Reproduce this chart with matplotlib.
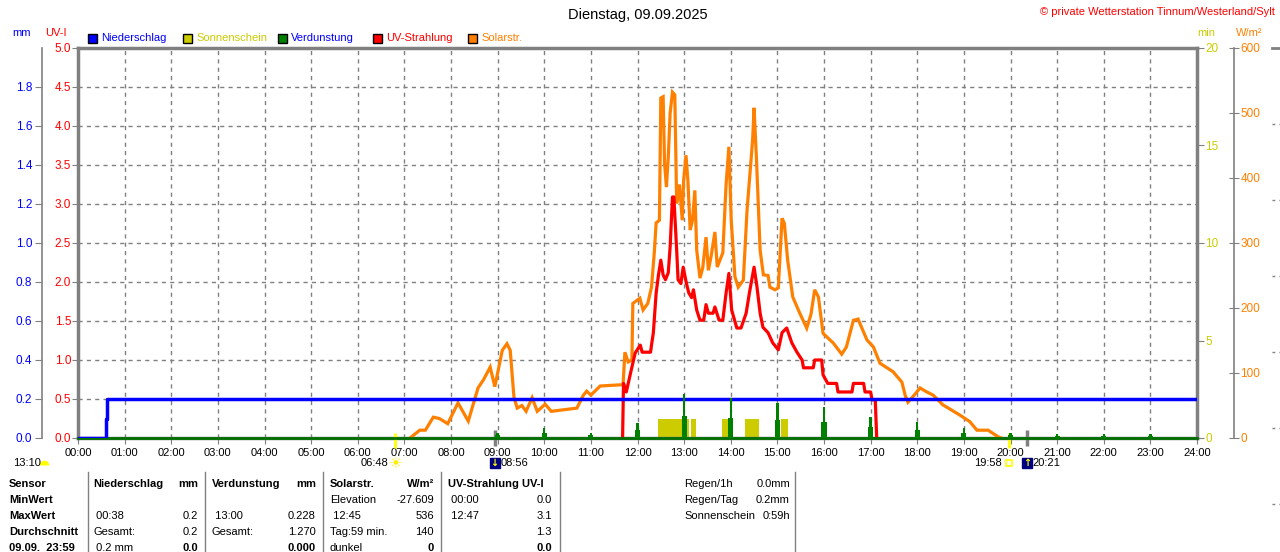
import numpy as np
import matplotlib
matplotlib.use('Agg')
import matplotlib.pyplot as plt
from matplotlib.lines import Line2D
from matplotlib.patches import Rectangle

plt.rcParams['font.family'] = ['Liberation Sans', 'DejaVu Sans']
plt.rcParams['font.size'] = 8

# %% data (time in hours)

solar_h = [7.12, 7.33, 7.45, 7.62, 7.75, 7.93, 8.15, 8.37, 8.58, 8.70, 8.84, 8.94,
           9.10, 9.20, 9.27, 9.35, 9.42, 9.52, 9.61, 9.74, 9.85, 10.02, 10.15, 10.70,
           10.84, 10.91, 11.00, 11.20, 11.69, 11.73, 11.80, 11.88, 11.90, 12.05, 12.12,
           12.22, 12.30, 12.36, 12.40, 12.47, 12.50, 12.55, 12.58, 12.62, 12.66, 12.70,
           12.75, 12.80, 12.84, 12.90, 12.96, 12.99, 13.04, 13.08, 13.13, 13.18, 13.23,
           13.27, 13.34, 13.40, 13.47, 13.52, 13.58, 13.66, 13.71, 13.83, 13.90, 13.96,
           14.01, 14.09, 14.16, 14.27, 14.35, 14.44, 14.47, 14.50, 14.55, 14.63, 14.70,
           14.80, 14.84, 14.95, 15.02, 15.10, 15.15, 15.22, 15.33, 15.48, 15.63, 15.72,
           15.80, 15.88, 15.98, 16.20, 16.38, 16.48, 16.63, 16.73, 16.92, 17.06, 17.20,
           17.48, 17.67, 17.74, 17.80, 17.90, 18.06, 18.20, 18.34, 18.55, 18.92, 19.13,
           19.28, 19.52, 19.73, 19.80]
solar_w = [0, 12, 12, 32, 30, 22, 54, 26, 77, 90, 109, 79,
           135, 145, 135, 63, 46, 50, 41, 62, 41, 52, 41, 46,
           66, 72, 66, 80, 82, 132, 117, 120, 207, 215, 197,
           207, 232, 285, 331, 335, 523, 525, 423, 386, 432, 500,
           532, 528, 361, 390, 335, 397, 435, 397, 320, 335, 381,
           289, 246, 262, 309, 258, 280, 317, 263, 285, 390, 448,
           335, 248, 232, 243, 351, 432, 460, 508, 432, 289, 251,
           250, 232, 228, 231, 338, 330, 274, 217, 192, 169, 190,
           228, 217, 161, 146, 129, 140, 181, 183, 151, 140, 115,
           102, 86, 66, 55, 63, 77, 71, 66, 51, 35, 25,
           12, 12, 2, 0]

uv_h = [11.68, 11.70, 11.76, 11.85, 11.95, 12.06, 12.10, 12.28, 12.30, 12.34, 12.40,
        12.45, 12.50, 12.55, 12.60, 12.66, 12.70, 12.75, 12.78, 12.84, 12.87, 12.93,
        12.98, 13.05, 13.10, 13.16, 13.20, 13.27, 13.34, 13.42, 13.47, 13.52, 13.62,
        13.66, 13.75, 13.83, 13.90, 13.96, 14.02, 14.13, 14.22, 14.33, 14.40, 14.50,
        14.56, 14.63, 14.69, 14.80, 14.90, 15.02, 15.10, 15.20, 15.31, 15.42, 15.53,
        15.56, 15.77, 15.80, 15.95, 15.98, 16.08, 16.27, 16.30, 16.60, 16.63, 16.85,
        16.88, 17.00, 17.03, 17.10, 17.13]
uv_i = [0.0, 0.70, 0.59, 0.83, 1.09, 1.19, 1.10, 1.10, 1.19, 1.35, 1.86,
        2.09, 2.28, 2.09, 2.03, 2.12, 2.45, 3.09, 3.09, 2.41, 2.03, 1.98,
        2.19, 1.98, 1.86, 1.80, 1.90, 1.64, 1.51, 1.51, 1.71, 1.60, 1.60,
        1.68, 1.51, 1.51, 1.86, 2.11, 1.64, 1.41, 1.41, 1.60, 1.86, 2.19,
        1.95, 1.60, 1.42, 1.35, 1.22, 1.13, 1.35, 1.41, 1.22, 1.10, 1.00,
        0.90, 0.90, 1.00, 1.00, 0.81, 0.70, 0.70, 0.59, 0.59, 0.70, 0.70,
        0.59, 0.59, 0.49, 0.49, 0.0]

rain_h = [0.0, 0.60, 0.63, 24.0]
rain_mm = [0.0, 0.1, 0.2, 0.2]

evap_h = [9, 10, 11, 12, 13, 14, 15, 16, 17, 18, 19, 20, 21, 22, 23]
evap_mm = [0.027, 0.053, 0.027, 0.077, 0.228, 0.205, 0.18, 0.16, 0.108, 0.082,
           0.05, 0.026, 0.018, 0.018, 0.018]

sun_start = [12.43, 13.15, 13.81, 14.31, 15.07]
sun_end = [13.11, 13.25, 14.00, 14.61, 15.23]
sun_min = [1, 1, 1, 1, 1]

hours = list(range(0, 25))
hour_labels = ['%02d:00' % h for h in hours]


def hm(s):
    h, m = s.split(':')
    return int(h) + int(m) / 60.0


sunrise, sunset = '06:48', '19:58'
moonset, moonrise = '08:56', '20:21'
day_length = '13:10'

legend_labels = ['Niederschlag', 'Sonnenschein', 'Verdunstung', 'UV-Strahlung', 'Solarstr.']
legend_colors = ['#0000FF', '#CCCC00', '#008000', '#FF0000', '#FF8000']
legend_text_colors = ['#0000FF', '#CCCC00', '#0000FF', '#FF0000', '#FF8000']

# table
row_label = ['Sensor', 'MinWert', 'MaxWert', 'Durchschnitt', '09.09.  23:59']
tab_nied_l = ['Niederschlag', '', ' 00:38', 'Gesamt:', ' 0.2 mm']
tab_nied_r = ['mm', '', '0.2', '0.2', '0.0']
tab_verd_l = ['Verdunstung', '', ' 13:00', 'Gesamt:', '']
tab_verd_r = ['mm', '', '0.228', '1.270', '0.000']
tab_sol_l = ['Solarstr.', 'Elevation', ' 12:45', 'Tag:59 min.', 'dunkel']
tab_sol_r = ['W/m²', '-27.609', '536', '140', '0']
tab_uv_l = ['UV-Strahlung UV-I', ' 00:00', ' 12:47', '', '']
tab_uv_r = ['', '0.0', '3.1', '1.3', '0.0']
info_l = ['Regen/1h', 'Regen/Tag', 'Sonnenschein']
info_r = ['0.0mm', '0.2mm', '0:59h']

# %% figure helpers
W, H = 1280, 552
GRAY = '#808080'


def fx(x):
    return x / W


def fy(y):
    return 1 - y / H


fig = plt.figure(figsize=(W / 100, H / 100), dpi=100)
ax_sun = fig.add_axes([fx(78), fy(438), (1197 - 78) / W, (438 - 48) / H])
ax_sol = ax_sun.twinx()
ax_uv = ax_sun.twinx()
ax_mm = ax_sun.twinx()

# sunshine (min)
ax_sun.bar(sun_start, sun_min, width=np.array(sun_end) - np.array(sun_start),
           align='edge', color='#CCCC00', zorder=2)
ax_sun.set_xlim(0, 24)
ax_sun.set_ylim(0, 20)
ax_sun.set_xticks(hours)
ax_sun.set_xticklabels(hour_labels)
ax_sun.yaxis.tick_right()
ax_sun.set_yticks([0, 5, 10, 15, 20])
ax_sun.set_yticks(np.arange(0, 21, 2), minor=True)
ax_sun.yaxis.remove_overlapping_locs = False
ax_sun.grid(axis='x', which='major', color=GRAY, ls=(0, (3, 3)), lw=1)
ax_sun.grid(axis='y', which='minor', color=GRAY, ls=(0, (3, 3)), lw=1)
ax_sun.tick_params(axis='y', which='minor', length=0)
ax_sun.tick_params(axis='y', which='major', colors=GRAY, labelcolor='#CCCC00',
                   length=5, pad=1, labelsize=8.5)
ax_sun.tick_params(axis='x', colors=GRAY, labelcolor='black', length=4, pad=3)
for s in ax_sun.spines.values():
    s.set_color(GRAY)
    s.set_linewidth(2.5)

# solar radiation (W/m2)
ax_sol.plot(solar_h, solar_w, color='#FF8000', lw=2.3, solid_joinstyle='miter')
ax_sol.set_ylim(0, 600)
ax_sol.set_yticks(range(0, 601, 100))
ax_sol.spines['right'].set_position(('axes', 1 + 37 / 1119))
ax_sol.spines['right'].set_color(GRAY)
ax_sol.spines['right'].set_linewidth(1.2)
for s in ['top', 'left', 'bottom']:
    ax_sol.spines[s].set_visible(False)
ax_sol.tick_params(axis='y', direction='inout', length=7, colors=GRAY,
                   labelcolor='#FF8000', pad=1, labelsize=8.5)

# UV index
ax_uv.plot(uv_h, uv_i, color='#FF0000', lw=2.3)
ax_uv.set_ylim(0, 5)
ax_uv.yaxis.tick_left()
ax_uv.set_yticks(np.arange(0, 5.01, 0.5))
ax_uv.set_yticklabels(['%.1f' % v for v in np.arange(0, 5.01, 0.5)])
ax_uv.tick_params(axis='y', length=4, colors=GRAY, labelcolor='#FF0000', pad=1,
                  labelsize=8.5)
for s in ax_uv.spines.values():
    s.set_visible(False)

# precipitation and evaporation (mm)
ax_mm.axhline(0, color='#007000', lw=2, clip_on=False, zorder=1)
ax_mm.plot(rain_h, rain_mm, drawstyle='steps-post', color='#0000FF', lw=2.5, zorder=2)
ax_mm.bar(evap_h, np.array(evap_mm) * 0.5, width=0.11, color='#008000', zorder=3)
ax_mm.bar(evap_h, evap_mm, width=0.05, color='#008000', zorder=3)
ax_mm.set_ylim(0, 2)
ax_mm.yaxis.tick_left()
ax_mm.set_yticks(np.arange(0, 1.81, 0.2))
ax_mm.set_yticklabels(['%.1f' % v for v in np.arange(0, 1.81, 0.2)])
ax_mm.spines['left'].set_position(('axes', -36 / 1119))
ax_mm.spines['left'].set_color(GRAY)
ax_mm.spines['left'].set_linewidth(1.2)
for s in ['top', 'right', 'bottom']:
    ax_mm.spines[s].set_visible(False)
ax_mm.tick_params(axis='y', length=5, colors=GRAY, labelcolor='#0000FF', pad=2,
                  labelsize=8.5)

# sun / moon events below the time axis
xt = ax_sun.get_xaxis_transform()
ev_y = -25 / 390
ax_sun.vlines([hm(sunrise), hm(sunset)], -0.026, 0.013, transform=xt,
              colors='#FFFF00', lw=2, clip_on=False, zorder=5)
ax_sun.vlines([hm(moonset), hm(moonrise)], -0.02, 0.02, transform=xt,
              colors=GRAY, lw=2.5, clip_on=False, zorder=5)

ax_sun.annotate('☀', xy=(hm(sunrise), ev_y), xycoords=xt, ha='center', va='center',
                color='#FFEE00', fontsize=11, family='DejaVu Sans', annotation_clip=False)
ax_sun.annotate(sunrise, xy=(hm(sunrise), ev_y), xycoords=xt, xytext=(-7, 0),
                textcoords='offset pixels', ha='right', va='center', annotation_clip=False)
ax_sun.plot([hm(sunset)], [ev_y], marker='s', ms=5, mfc='none', mec='#FFFF00', mew=1.2,
            transform=xt, clip_on=False)
ax_sun.annotate(sunset, xy=(hm(sunset), ev_y), xycoords=xt, xytext=(-7, 0),
                textcoords='offset pixels', ha='right', va='center', annotation_clip=False)
for t, arrow in [(moonset, '↓'), (moonrise, '↑')]:
    ax_sun.plot([hm(t)], [ev_y], marker='s', ms=7, color='#000080', transform=xt,
                clip_on=False)
    ax_sun.annotate(arrow, xy=(hm(t), ev_y), xycoords=xt, ha='center', va='center',
                    color='#FFFF00', fontsize=7, fontweight='bold', family='DejaVu Sans',
                    annotation_clip=False)
    ax_sun.annotate(t, xy=(hm(t), ev_y), xycoords=xt, xytext=(6, 0),
                    textcoords='offset pixels', ha='left', va='center', annotation_clip=False)

fig.text(fx(13), fy(463), day_length, ha='left', va='center')
fig.add_artist(Line2D([fx(44)], [fy(465)], marker='o', fillstyle='top', ms=7,
                      mfc='#FFFF00', mec='none', transform=fig.transFigure))

# %% header texts
fig.text(fx(638), fy(15), 'Dienstag, 09.09.2025', ha='center', va='center', fontsize=10.5)
fig.text(fx(1275), fy(12), '© private Wetterstation Tinnum/Westerland/Sylt',
         ha='right', va='center', color='#FF0000')
fig.text(fx(22), fy(33), 'mm', ha='center', va='center', color='#0000FF')
fig.text(fx(56), fy(33), 'UV-I', ha='center', va='center', color='#FF0000')
fig.text(fx(1206), fy(33), 'min', ha='center', va='center', color='#CCCC00')
fig.text(fx(1249), fy(33), 'W/m²', ha='center', va='center', color='#FF8000')

for i, (lab, c, tc) in enumerate(zip(legend_labels, legend_colors, legend_text_colors)):
    x0 = 88 + i * 95
    fig.add_artist(Rectangle((fx(x0), fy(43)), 9 / W, 9 / H, transform=fig.transFigure,
                             facecolor=c, edgecolor='black', lw=1))
    fig.text(fx(x0 + 13), fy(38), lab, ha='left', va='center', color=tc)

# %% table
row_y = [484, 500, 516, 532, 548]
for y, lab in zip(row_y, row_label):
    fig.text(fx(9), fy(y), lab, ha='left', va='center', fontweight='bold')

blocks = [(93, 198, tab_nied_l, tab_nied_r), (212, 316, tab_verd_l, tab_verd_r),
          (330, 434, tab_sol_l, tab_sol_r), (448, 552, tab_uv_l, tab_uv_r)]
for lx, rx, lefts, rights in blocks:
    for k, (y, lt, rt) in enumerate(zip(row_y, lefts, rights)):
        fig.text(fx(lx), fy(y), lt, ha='left', va='center',
                 fontweight='bold' if k == 0 else 'normal')
        fig.text(fx(rx), fy(y), rt, ha='right', va='center',
                 fontweight='bold' if k in (0, 4) else 'normal')

for y, lt, rt in zip(row_y, info_l, info_r):
    fig.text(fx(684), fy(y), lt, ha='left', va='center')
    fig.text(fx(790), fy(y), rt, ha='right', va='center')

for x in [88, 205, 323, 441, 560, 795]:
    fig.add_artist(Line2D([fx(x), fx(x)], [fy(472), fy(552)], color=GRAY, lw=1,
                          transform=fig.transFigure))

# cut-off axis at the right edge
fig.add_artist(Line2D([fx(1272), fx(1280)], [fy(48), fy(48)], color=GRAY, lw=2,
                      transform=fig.transFigure))
for y in range(124, 552, 76):
    fig.add_artist(Line2D([fx(1272), fx(1280)], [fy(y), fy(y)], color=GRAY, lw=1,
                          ls=(0, (2, 3)), transform=fig.transFigure))

fig.savefig('out.png', dpi=100)
